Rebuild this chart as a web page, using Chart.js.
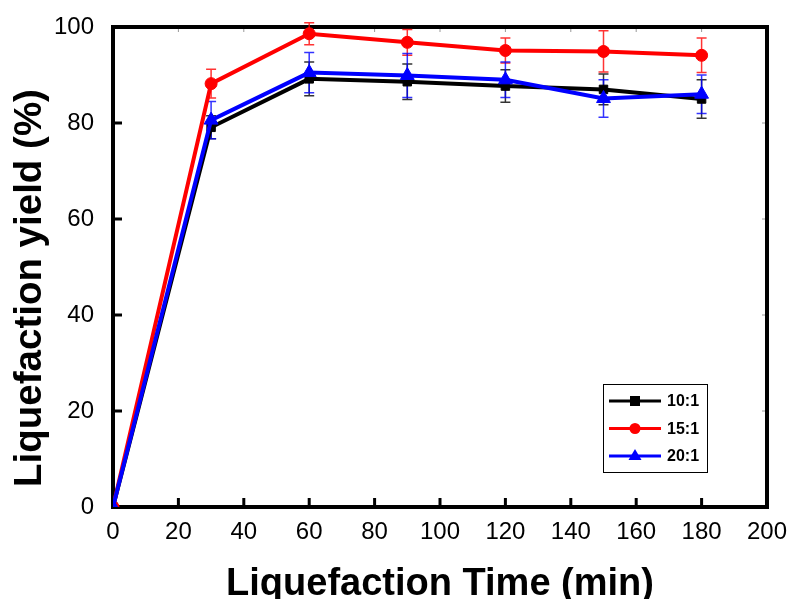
<html lang="en">
<head>
  <meta charset="UTF-8">
  <title>Liquefaction yield</title>
  <script src="https://cdn.jsdelivr.net/npm/chart.js"></script>
  <style>
    body { margin: 0; background: #fff; }
  </style>
</head>
<body>
  <canvas id="viz" width="791" height="599"></canvas>
  <script>
    // liquefaction time (min)
    const times = [0, 30, 60, 90, 120, 150, 180]
    const seriesLabels = ['10:1', '15:1', '20:1']
    const ratio10 = [0, 79.1, 89.2, 88.6, 87.7, 87.0, 85.0]
    const ratio15 = [0, 88.2, 98.6, 96.8, 95.1, 94.9, 94.1]
    const ratio20 = [0, 80.6, 90.5, 89.9, 89.0, 85.1, 86.0]
    const err10 = [0, 2.4, 3.5, 3.7, 3.4, 3.2, 4.0]
    const err15 = [0, 3.0, 2.3, 2.7, 2.6, 4.3, 3.6]
    const err20 = [0, 3.9, 4.2, 4.6, 3.7, 3.9, 4.0]
    const xTicks = [0, 20, 40, 60, 80, 100, 120, 140, 160, 180, 200]
    const yTicks = [0, 20, 40, 60, 80, 100]
    const xTitle = 'Liquefaction Time (min)'
    const yTitle = 'Liquefaction yield (%)'

    const fontFamily = '"Liberation Sans", Arial, sans-serif'
    const toPoints = vals => times.map((t, i) => ({ x: t, y: vals[i] }))

    const makeSet = (label, vals, errs, color, style, order) => ({
      label,
      data: toPoints(vals),
      errors: errs,
      borderColor: color,
      backgroundColor: color,
      borderWidth: 4,
      pointStyle: style,
      pointRadius: style === 'triangle' ? 8 : 6,
      pointBorderWidth: 1,
      order
    })

    const frame = {
      id: 'frame',
      beforeDatasetsDraw(chart) {
        const { ctx, chartArea: a, scales: { x, y } } = chart
        ctx.save()
        ctx.strokeStyle = '#000'
        // inner ticks
        ctx.lineWidth = 3
        xTicks.forEach(v => {
          const px = x.getPixelForValue(v)
          ctx.beginPath(); ctx.moveTo(px, a.bottom); ctx.lineTo(px, a.bottom - 9); ctx.stroke()
        })
        yTicks.forEach(v => {
          const py = y.getPixelForValue(v)
          ctx.beginPath(); ctx.moveTo(a.left, py); ctx.lineTo(a.left + 9, py); ctx.stroke()
        })
        ctx.lineWidth = 1
        ctx.strokeStyle = '#999'
        xTicks.forEach(v => {
          const px = x.getPixelForValue(v)
          ctx.beginPath(); ctx.moveTo(px, a.top); ctx.lineTo(px, a.top + 5); ctx.stroke()
        })
        yTicks.forEach(v => {
          const py = y.getPixelForValue(v)
          ctx.beginPath(); ctx.moveTo(a.right, py); ctx.lineTo(a.right - 5, py); ctx.stroke()
        })
        ctx.lineWidth = 4
        ctx.strokeStyle = '#000'
        ctx.strokeRect(a.left, a.top, a.right - a.left, a.bottom - a.top)

        // error bars
        chart.data.datasets.forEach(ds => {
          ctx.strokeStyle = ds.borderColor
          ctx.globalAlpha = 0.8
          ctx.lineWidth = 1.5
          ds.data.forEach((p, i) => {
            const e = ds.errors[i]
            if (!e) return
            const px = x.getPixelForValue(p.x)
            const hi = y.getPixelForValue(p.y + e)
            const lo = y.getPixelForValue(p.y - e)
            ctx.beginPath()
            ctx.moveTo(px, hi); ctx.lineTo(px, lo)
            ctx.moveTo(px - 5, hi); ctx.lineTo(px + 5, hi)
            ctx.moveTo(px - 5, lo); ctx.lineTo(px + 5, lo)
            ctx.stroke()
          })
        })
        ctx.restore()
      }
    }

    const extras = {
      id: 'extras',
      afterDraw(chart) {
        const { ctx } = chart
        ctx.save()
        // y axis title, sits a little below the plot centre in the original
        ctx.translate(30, 288)
        ctx.rotate(-Math.PI / 2)
        ctx.fillStyle = '#000'
        ctx.font = 'bold 38.5px ' + fontFamily
        ctx.textAlign = 'center'
        ctx.textBaseline = 'middle'
        ctx.fillText(yTitle, 0, 0)
        ctx.restore()

        // legend
        const bx = 603, by = 384, bw = 104, bh = 88
        ctx.save()
        ctx.fillStyle = '#fff'
        ctx.fillRect(bx, by, bw, bh)
        ctx.strokeStyle = '#000'
        ctx.lineWidth = 1
        ctx.strokeRect(bx + 0.5, by + 0.5, bw, bh)
        chart.data.datasets.forEach((ds, i) => {
          const ly = by + 17 + i * 27.5
          ctx.strokeStyle = ds.borderColor
          ctx.fillStyle = ds.borderColor
          ctx.lineWidth = 3
          ctx.beginPath(); ctx.moveTo(bx + 6, ly); ctx.lineTo(bx + 58, ly); ctx.stroke()
          const mx = bx + 32
          ctx.beginPath()
          if (ds.pointStyle === 'rect') ctx.rect(mx - 5, ly - 5, 10, 10)
          else if (ds.pointStyle === 'circle') ctx.arc(mx, ly, 5.5, 0, Math.PI * 2)
          else { ctx.moveTo(mx, ly - 7); ctx.lineTo(mx + 6.5, ly + 4); ctx.lineTo(mx - 6.5, ly + 4); ctx.closePath() }
          ctx.fill()
          ctx.fillStyle = '#000'
          ctx.font = 'bold 16px ' + fontFamily
          ctx.textBaseline = 'middle'
          ctx.fillText(ds.label, bx + 64, ly + 1)
        })
        ctx.restore()
      }
    }

    new Chart(document.getElementById('viz'), {
      type: 'line',
      data: {
        datasets: [
          makeSet(seriesLabels[0], ratio10, err10, '#000000', 'rect', 2),
          makeSet(seriesLabels[1], ratio15, err15, '#ff0000', 'circle', 1),
          makeSet(seriesLabels[2], ratio20, err20, '#0000ff', 'triangle', 0)
        ]
      },
      options: {
        responsive: false,
        animation: false,
        layout: { padding: { top: 27, right: 24, left: 0, bottom: 0 } },
        plugins: { legend: { display: false }, tooltip: { enabled: false } },
        scales: {
          x: {
            type: 'linear',
            min: 0, max: 200,
            afterFit: s => { s.height = 92 },
            afterBuildTicks: s => { s.ticks = xTicks.map(v => ({ value: v })) },
            grid: { display: false },
            border: { display: false },
            ticks: { color: '#000', padding: 3, maxRotation: 0, font: { family: fontFamily, size: 24 } },
            title: { display: true, text: xTitle, color: '#000', padding: -8, font: { family: fontFamily, size: 38, weight: 'bold' } }
          },
          y: {
            min: 0, max: 100,
            afterFit: s => { s.width = 113 },
            afterBuildTicks: s => { s.ticks = yTicks.map(v => ({ value: v })) },
            grid: { display: false },
            border: { display: false },
            ticks: { color: '#000', padding: 11, font: { family: fontFamily, size: 24 } },
            title: { display: false }
          }
        }
      },
      plugins: [frame, extras]
    })
  </script>
</body>
</html>
